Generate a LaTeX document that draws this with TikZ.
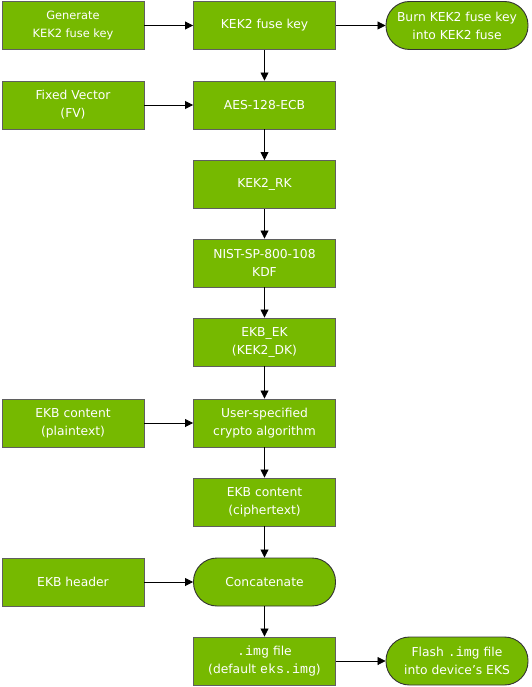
\documentclass[tikz,border=0pt]{standalone}
\usepackage{fontspec}
\setmainfont{DejaVu Sans}
\setmonofont[Scale=1.08]{Liberation Mono}
\usetikzlibrary{arrows.meta}
\definecolor{nvgreen}{HTML}{76B900}
\definecolor{boxline}{HTML}{5F5F5F}
\begin{document}
\begin{tikzpicture}[x=1pt,y=-1pt,
  every node/.style={font=\fontsize{12.3}{18}\selectfont, text=white, align=center},
  box/.style={draw=boxline, line width=0.9pt, fill=nvgreen, minimum width=142pt, minimum height=48pt, inner sep=0pt},
  capsule/.style={draw=black!80, line width=0.9pt, fill=nvgreen, minimum width=142pt, minimum height=48pt, inner sep=0pt, rounded corners=23.5pt},
  arr/.style={draw=black, line width=0.8pt, -{Triangle[length=8pt,width=8pt]}}
]
\useasboundingbox (0,0) rectangle (531,687);
% left column
\node[box, font=\fontsize{11.4}{18}\selectfont] (gen) at (73,25.5) {Generate\\KEK2 fuse key};
\node[box] (fv) at (73,105) {Fixed Vector\\(FV)};
\node[box] (plain) at (73,423) {EKB content\\(plaintext)};
\node[box] (hdr) at (73,582) {EKB header};
% middle column
\node[box] (fuse) at (264.5,25.5) {KEK2 fuse key};
\node[box] (aes) at (264.5,105) {AES-128-ECB};
\node[box] (rk) at (264.5,184.5) {KEK2\_RK};
\node[box] (nist) at (264.5,263) {NIST-SP-800-108\\KDF};
\node[box] (ek) at (264.5,342) {EKB\_EK\\(KEK2\_DK)};
\node[box] (user) at (264.5,423) {User-specified\\crypto algorithm};
\node[box] (cipher) at (264.5,502) {EKB content\\(ciphertext)};
\node[capsule] (concat) at (264.5,582) {Concatenate};
\node[box] (img) at (264.5,661) {\texttt{.img} file\\(default \texttt{eks.img})};
% right column
\node[capsule] (burn) at (457,25.5) {Burn KEK2 fuse key\\into KEK2 fuse};
\node[capsule] (flash) at (457,661) {Flash \texttt{.img} file\\into device’s EKS};
% connectors
\draw[arr] (gen) -- (fuse);
\draw[arr] (fuse) -- (burn);
\draw[arr] (fuse) -- (aes);
\draw[arr] (fv) -- (aes);
\draw[arr] (aes) -- (rk);
\draw[arr] (rk) -- (nist);
\draw[arr] (nist) -- (ek);
\draw[arr] (ek) -- (user);
\draw[arr] (plain) -- (user);
\draw[arr] (user) -- (cipher);
\draw[arr] (cipher) -- (concat);
\draw[arr] (hdr) -- (concat);
\draw[arr] (concat) -- (img);
\draw[arr] (img) -- (flash);
\end{tikzpicture}
\end{document}
